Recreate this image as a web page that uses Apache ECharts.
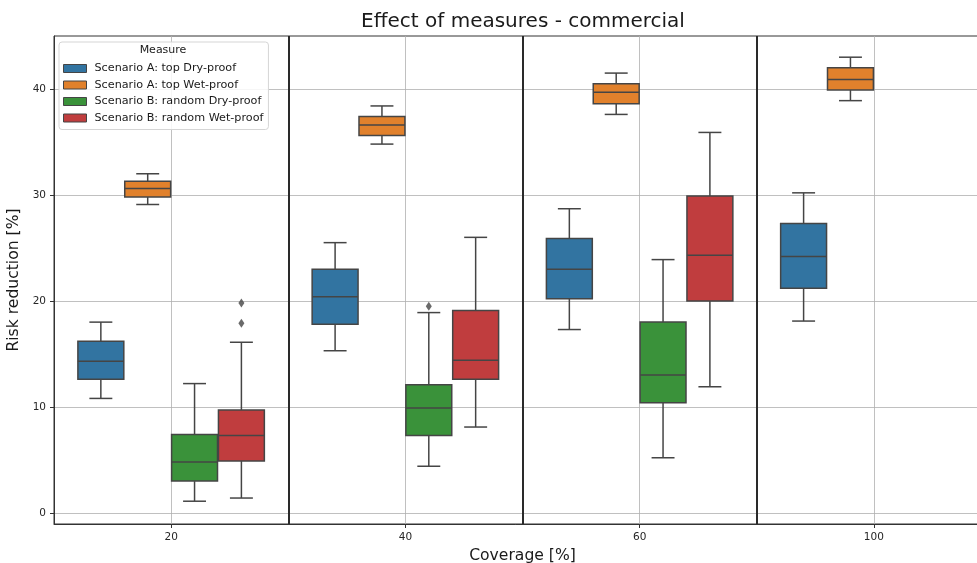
<!DOCTYPE html>
<html><head><meta charset="utf-8">
<script src="https://cdn.jsdelivr.net/npm/echarts@6/dist/echarts.min.js"></script>
<style>html,body{margin:0;padding:0;background:#fff}#c{width:977px;height:563px}</style>
</head><body><div id="c"></div>
<script>
// ---- data ----
const categories = ['20', '40', '60', '100'];
const seriesNames = ['Scenario A: top Dry-proof', 'Scenario A: top Wet-proof', 'Scenario B: random Dry-proof', 'Scenario B: random Wet-proof'];
// per category: [lower whisker, Q1, median, Q3, upper whisker]; null = no data
const topDry  = [[10.8, 12.6, 14.3, 16.2, 18.0], [15.3, 17.8, 20.4, 23.0, 25.5], [17.3, 20.2, 23.0, 25.9, 28.7], [18.1, 21.2, 24.2, 27.3, 30.2]];
const topWet  = [[29.1, 29.8, 30.6, 31.3, 32.0], [34.8, 35.6, 36.6, 37.4, 38.4], [37.6, 38.6, 39.7, 40.5, 41.5], [38.9, 39.9, 40.9, 42.0, 43.0]];
const randDry = [[1.1, 3.0, 4.8, 7.4, 12.2], [4.4, 7.3, 9.9, 12.1, 18.9], [5.2, 10.4, 13.0, 18.0, 23.9], null];
const randWet = [[1.4, 4.9, 7.3, 9.7, 16.1], [8.1, 12.6, 14.4, 19.1, 26.0], [11.9, 20.0, 24.3, 29.9, 35.9], null];
// outliers: [category index, value]
const topDryOut  = [];
const topWetOut  = [];
const randDryOut = [[1, 19.5]];
const randWetOut = [[0, 19.8], [0, 17.9]];
const yTicks = [0, 10, 20, 30, 40];
const separators = [0.5, 1.5, 2.5];

// ---- styles ----
const colors = ['#3274a1', '#e1812c', '#3a923a', '#c03d3e'];
const lineCol = '#454545';
const FONT = 'DejaVu Sans';

const allStats = [topDry, topWet, randDry, randWet];
const allOut = [topDryOut, topWetOut, randDryOut, randWetOut];
const nHue = allStats.length;
const hueWidth = 0.8 / nHue;

function makeRenderer(h) {
  const off = (h - (nHue - 1) / 2) * hueWidth;
  const half = hueWidth * 0.98 / 2;
  return function (params, api) {
    const c = api.value(0);
    const vals = [api.value(1), api.value(2), api.value(3), api.value(4), api.value(5)];
    const xL = api.coord([c + off - half, 0])[0];
    const xR = api.coord([c + off + half, 0])[0];
    const xM = api.coord([c + off, 0])[0];
    const cL = api.coord([c + off - half / 2, 0])[0];
    const cR = api.coord([c + off + half / 2, 0])[0];
    const y = vals.map(v => api.coord([c, v])[1]);
    const st = { stroke: lineCol, lineWidth: 1.5 };
    return {
      type: 'group',
      children: [
        { type: 'line', shape: { x1: xM, y1: y[3], x2: xM, y2: y[4] }, style: st },
        { type: 'line', shape: { x1: xM, y1: y[0], x2: xM, y2: y[1] }, style: st },
        { type: 'line', shape: { x1: cL, y1: y[4], x2: cR, y2: y[4] }, style: st },
        { type: 'line', shape: { x1: cL, y1: y[0], x2: cR, y2: y[0] }, style: st },
        { type: 'rect', shape: { x: xL, y: y[3], width: xR - xL, height: y[1] - y[3] },
          style: { fill: api.visual('color'), stroke: lineCol, lineWidth: 1.5 } },
        { type: 'line', shape: { x1: xL, y1: y[2], x2: xR, y2: y[2] }, style: st }
      ]
    };
  };
}

const series = [];
allStats.forEach((stats, h) => {
  const data = [];
  stats.forEach((s, ci) => { if (s) data.push([ci].concat(s)); });
  const ser = {
    name: seriesNames[h],
    type: 'custom',
    renderItem: makeRenderer(h),
    itemStyle: { color: colors[h], borderColor: lineCol, borderWidth: 1 },
    encode: { x: 0, y: [1, 2, 3, 4, 5] },
    data: data,
    silent: true,
    z: 3
  };
  if (h === 0) {
    ser.markLine = {
      silent: true, symbol: 'none', animation: false,
      label: { show: false },
      lineStyle: { color: '#2a2a2a', width: 2, type: 'solid' },
      emphasis: { disabled: true },
      data: separators.map(x => ({ xAxis: x }))
    };
  }
  series.push(ser);
  const off = (h - (nHue - 1) / 2) * hueWidth;
  if (allOut[h].length) {
    series.push({
      name: seriesNames[h] + ' outliers',
      type: 'scatter',
      symbol: 'diamond',
      symbolSize: [6, 9],
      itemStyle: { color: lineCol },
      data: allOut[h].map(o => [o[0] + off, o[1]]),
      silent: true,
      z: 4
    });
  }
});

const chart = echarts.init(document.getElementById('c'), null, { renderer: 'canvas' });
chart.setOption({
  animation: false,
  backgroundColor: '#fff',
  textStyle: { fontFamily: FONT },
  grid: { left: 54, right: -14, top: 36, bottom: 39, show: true, borderColor: '#333', borderWidth: 1, outerBoundsMode: 'none', containLabel: false },
  graphic: [
    { type: 'text', x: 523, y: 12, style: { text: 'Effect of measures - commercial', fontFamily: FONT, fontSize: 20, fill: '#1a1a1a', textAlign: 'center' } },
    { type: 'text', x: 163, y: 45, z: 100, style: { text: 'Measure', fontFamily: FONT, fontSize: 11, fill: '#1a1a1a', textAlign: 'center' } }
  ],
  legend: {
    data: seriesNames,
    orient: 'vertical',
    left: 59, top: 42,
    padding: [21, 5, 6, 4],
    itemWidth: 23, itemHeight: 8, itemGap: 5.5,
    icon: 'rect',
    backgroundColor: 'rgba(255,255,255,0.85)',
    borderColor: '#d5d5d5', borderWidth: 1, borderRadius: 3,
    selectedMode: false,
    itemStyle: { borderColor: lineCol, borderWidth: 1 },
    textStyle: { fontFamily: FONT, fontSize: 11.2, color: '#1a1a1a', padding: [0, 0, 0, 3] },
    z: 50
  },
  xAxis: {
    type: 'value', min: -0.5, max: 3.5,
    name: 'Coverage [%]', nameLocation: 'middle', nameGap: 21,
    nameTextStyle: { fontFamily: FONT, fontSize: 15.6, color: '#1a1a1a' },
    axisLine: { show: true, onZero: false, lineStyle: { color: '#333', width: 1 } },
    axisTick: { show: true, customValues: [0, 1, 2, 3], length: 4, lineStyle: { color: '#333' } },
    axisLabel: { customValues: [0, 1, 2, 3], formatter: v => categories[Math.round(v)], fontFamily: FONT, fontSize: 10.5, color: '#262626', margin: 8 },
    splitLine: { show: true, lineStyle: { color: '#b0b0b0', width: 0.8 } }
  },
  yAxis: {
    type: 'value', min: -1.05, max: 45,
    name: 'Risk reduction [%]', nameLocation: 'middle', nameGap: 27,
    nameTextStyle: { fontFamily: FONT, fontSize: 15.6, color: '#1a1a1a' },
    axisLine: { show: true, onZero: false, lineStyle: { color: '#333', width: 1 } },
    axisTick: { show: true, customValues: yTicks, length: 4, lineStyle: { color: '#333' } },
    axisLabel: { customValues: yTicks, fontFamily: FONT, fontSize: 10.5, color: '#262626', margin: 8 },
    splitLine: { show: true, lineStyle: { color: '#b0b0b0', width: 0.8 } }
  },
  series: series
});
</script>
</body></html>
